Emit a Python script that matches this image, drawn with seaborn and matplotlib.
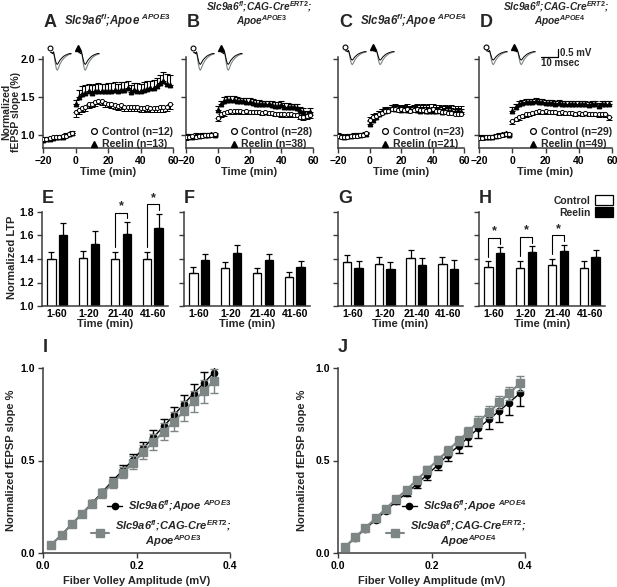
import numpy as np
import pandas as pd
import matplotlib
matplotlib.use('Agg')
import matplotlib.pyplot as plt
import seaborn as sns
from matplotlib.lines import Line2D
from matplotlib.patches import Patch

W, H = 617, 587

# ---------------- time course data (A-D) ----------------
t_base = [-20, -18, -16, -14, -12, -10, -8, -6, -4, -2]
t_post = list(range(0, 60, 2))

a_ctrl_base = [0.95, 0.95, 0.96, 0.97, 0.97, 0.98, 0.99, 0.99, 1.01, 1.02]
a_reel_base = [0.94, 0.95, 0.95, 0.96, 0.97, 0.98, 0.98, 1.00, 1.01, 1.03]
a_base_err = [0.02, 0.02, 0.02, 0.02, 0.02, 0.02, 0.02, 0.02, 0.02, 0.02]
a_ctrl_post = [1.30, 1.33, 1.35, 1.37, 1.40, 1.41, 1.43, 1.45, 1.44, 1.42, 1.41, 1.40, 1.39, 1.38, 1.39,
               1.37, 1.37, 1.36, 1.37, 1.36, 1.35, 1.35, 1.36, 1.35, 1.35, 1.35, 1.36, 1.36, 1.37, 1.40]
a_ctrl_err = [0.06, 0.05, 0.05, 0.05, 0.05, 0.05, 0.05, 0.05, 0.05, 0.05, 0.05, 0.05, 0.05, 0.05, 0.05,
              0.05, 0.05, 0.05, 0.05, 0.05, 0.05, 0.05, 0.05, 0.05, 0.05, 0.05, 0.06, 0.06, 0.06, 0.06]
a_reel_post = [1.40, 1.50, 1.54, 1.55, 1.57, 1.55, 1.57, 1.58, 1.57, 1.57, 1.58, 1.58, 1.59, 1.57, 1.59,
               1.59, 1.61, 1.56, 1.59, 1.58, 1.57, 1.59, 1.60, 1.61, 1.62, 1.64, 1.68, 1.70, 1.67, 1.66]
a_reel_err = [0.06, 0.09, 0.10, 0.10, 0.10, 0.10, 0.10, 0.10, 0.10, 0.10, 0.10, 0.10, 0.10, 0.10, 0.10,
              0.10, 0.09, 0.09, 0.09, 0.10, 0.10, 0.10, 0.10, 0.10, 0.10, 0.11, 0.11, 0.13, 0.13, 0.12]

b_ctrl_base = [0.97, 0.98, 0.99, 0.98, 0.99, 0.99, 1.00, 1.00, 1.00, 1.01]
b_reel_base = [0.98, 0.99, 0.98, 1.00, 0.99, 1.00, 1.00, 1.00, 1.01, 1.00]
b_base_err = [0.03, 0.02, 0.02, 0.02, 0.02, 0.02, 0.02, 0.02, 0.02, 0.02]
b_ctrl_post = [1.22, 1.27, 1.29, 1.30, 1.31, 1.31, 1.32, 1.31, 1.30, 1.31, 1.30, 1.30, 1.30, 1.30, 1.29,
               1.30, 1.29, 1.29, 1.28, 1.28, 1.27, 1.27, 1.27, 1.27, 1.26, 1.26, 1.24, 1.23, 1.25, 1.26]
b_ctrl_err = [0.04, 0.04, 0.04, 0.03, 0.03, 0.03, 0.03, 0.03, 0.03, 0.03, 0.03, 0.03, 0.03, 0.03, 0.03,
              0.03, 0.03, 0.03, 0.03, 0.03, 0.03, 0.03, 0.03, 0.03, 0.03, 0.03, 0.03, 0.03, 0.04, 0.04]
b_reel_post = [1.33, 1.40, 1.45, 1.46, 1.46, 1.46, 1.45, 1.44, 1.44, 1.43, 1.43, 1.42, 1.41, 1.41, 1.40,
               1.40, 1.40, 1.39, 1.38, 1.38, 1.39, 1.37, 1.37, 1.36, 1.36, 1.35, 1.32, 1.30, 1.26, 1.30]
b_reel_err = [0.05, 0.05, 0.05, 0.05, 0.05, 0.05, 0.05, 0.05, 0.05, 0.05, 0.05, 0.05, 0.05, 0.05, 0.05,
              0.05, 0.05, 0.05, 0.05, 0.05, 0.05, 0.05, 0.05, 0.05, 0.05, 0.05, 0.05, 0.05, 0.05, 0.05]

c_ctrl_base = [0.99, 0.97, 0.98, 0.98, 0.99, 0.99, 0.99, 1.00, 1.00, 1.02]
c_reel_base = [1.00, 0.99, 0.98, 0.99, 0.99, 1.00, 1.00, 1.00, 1.01, 1.01]
c_base_err = [0.02, 0.02, 0.02, 0.02, 0.02, 0.02, 0.02, 0.02, 0.02, 0.02]
c_ctrl_post = [1.20, 1.23, 1.25, 1.27, 1.29, 1.31, 1.32, 1.34, 1.34, 1.33, 1.34, 1.33, 1.34, 1.32, 1.33,
               1.34, 1.33, 1.33, 1.32, 1.33, 1.34, 1.32, 1.31, 1.30, 1.30, 1.29, 1.29, 1.28, 1.28, 1.28]
c_ctrl_err = [0.04, 0.04, 0.04, 0.04, 0.05, 0.05, 0.05, 0.05, 0.06, 0.06, 0.05, 0.06, 0.06, 0.06, 0.06,
              0.06, 0.06, 0.07, 0.07, 0.07, 0.07, 0.07, 0.08, 0.08, 0.09, 0.09, 0.10, 0.10, 0.10, 0.10]
c_reel_post = [1.15, 1.20, 1.24, 1.27, 1.30, 1.31, 1.33, 1.35, 1.34, 1.34, 1.33, 1.34, 1.33, 1.33, 1.34,
               1.33, 1.32, 1.33, 1.32, 1.31, 1.32, 1.31, 1.33, 1.30, 1.31, 1.32, 1.31, 1.30, 1.31, 1.30]
c_reel_err = [0.03, 0.03, 0.04, 0.04, 0.04, 0.04, 0.04, 0.04, 0.04, 0.04, 0.04, 0.04, 0.04, 0.04, 0.04,
              0.04, 0.04, 0.04, 0.04, 0.04, 0.04, 0.04, 0.04, 0.04, 0.04, 0.04, 0.04, 0.04, 0.04, 0.04]

d_ctrl_base = [0.96, 0.96, 0.97, 0.97, 0.98, 0.99, 0.99, 1.00, 1.01, 1.01]
d_reel_base = [0.97, 0.98, 0.97, 0.98, 0.98, 0.99, 1.00, 1.01, 1.02, 1.00]
d_base_err = [0.02, 0.02, 0.02, 0.02, 0.02, 0.02, 0.02, 0.02, 0.02, 0.02]
d_ctrl_post = [1.18, 1.21, 1.23, 1.25, 1.27, 1.28, 1.29, 1.30, 1.31, 1.30, 1.31, 1.30, 1.30, 1.30, 1.29,
               1.30, 1.29, 1.29, 1.29, 1.28, 1.29, 1.28, 1.29, 1.28, 1.28, 1.28, 1.27, 1.28, 1.27, 1.24]
d_ctrl_err = [0.03, 0.03, 0.03, 0.03, 0.03, 0.03, 0.03, 0.03, 0.03, 0.03, 0.03, 0.03, 0.03, 0.03, 0.03,
              0.03, 0.03, 0.03, 0.03, 0.03, 0.03, 0.03, 0.03, 0.03, 0.03, 0.03, 0.03, 0.03, 0.03, 0.04]
d_reel_post = [1.32, 1.37, 1.41, 1.42, 1.43, 1.43, 1.43, 1.44, 1.43, 1.43, 1.42, 1.42, 1.42, 1.41, 1.42,
               1.41, 1.41, 1.40, 1.41, 1.41, 1.40, 1.40, 1.40, 1.39, 1.40, 1.40, 1.38, 1.41, 1.40, 1.41]
d_reel_err = [0.04, 0.04, 0.04, 0.04, 0.04, 0.04, 0.04, 0.04, 0.04, 0.04, 0.04, 0.04, 0.04, 0.04, 0.04,
              0.04, 0.04, 0.04, 0.04, 0.04, 0.04, 0.04, 0.04, 0.04, 0.04, 0.04, 0.04, 0.04, 0.04, 0.04]

n_ctrl = [12, 28, 23, 29]
n_reel = [13, 38, 21, 49]

# example fEPSP traces for the insets (ms, mV)
trace_t = [0, 1, 2, 3, 4, 5, 6, 7, 8, 9, 10, 12, 14, 16, 18, 20, 22]
trace_pre = [0, 0, -0.05, 0.03, -0.15, -0.35, -0.50, -0.55, -0.50, -0.42, -0.35, -0.25, -0.17, -0.12, -0.08, -0.05, -0.04]
trace_post = [0, 0, -0.05, 0.03, -0.22, -0.52, -0.74, -0.82, -0.75, -0.64, -0.53, -0.38, -0.27, -0.19, -0.13, -0.09, -0.07]

# ---------------- LTP bar data (E-H) ----------------
windows = ['1-60', '1-20', '21-40', '41-60']
e_ctrl = [1.40, 1.41, 1.40, 1.40]
e_ctrl_err = [0.06, 0.06, 0.06, 0.06]
e_reel = [1.60, 1.53, 1.61, 1.665]
e_reel_err = [0.11, 0.11, 0.105, 0.12]
f_ctrl = [1.285, 1.32, 1.277, 1.243]
f_ctrl_err = [0.05, 0.055, 0.05, 0.05]
f_reel = [1.39, 1.45, 1.39, 1.33]
f_reel_err = [0.05, 0.065, 0.05, 0.05]
g_ctrl = [1.375, 1.36, 1.41, 1.355]
g_ctrl_err = [0.055, 0.055, 0.065, 0.06]
g_reel = [1.325, 1.315, 1.345, 1.315]
g_reel_err = [0.06, 0.06, 0.06, 0.08]
h_ctrl = [1.33, 1.32, 1.35, 1.32]
h_ctrl_err = [0.05, 0.065, 0.05, 0.065]
h_reel = [1.45, 1.46, 1.47, 1.42]
h_reel_err = [0.05, 0.05, 0.05, 0.055]
e_sig = ['21-40', '41-60']
h_sig = ['1-60', '1-20', '21-40']

# ---------------- input-output data (I-J) ----------------
i_fv = [0.018, 0.040, 0.062, 0.083, 0.105, 0.127, 0.149, 0.171, 0.193, 0.214, 0.236, 0.258, 0.280, 0.301,
        0.322, 0.344, 0.365]
i_black = [0.045, 0.100, 0.158, 0.213, 0.270, 0.330, 0.390, 0.448, 0.505, 0.565, 0.625, 0.685, 0.745, 0.805,
           0.862, 0.918, 0.975]
i_black_err = [0.005, 0.008, 0.010, 0.012, 0.014, 0.018, 0.022, 0.026, 0.030, 0.034, 0.038, 0.042, 0.046,
               0.050, 0.054, 0.058, 0.060]
i_gray = [0.045, 0.099, 0.155, 0.210, 0.265, 0.322, 0.378, 0.433, 0.488, 0.545, 0.600, 0.655, 0.710, 0.765,
          0.820, 0.875, 0.930]
i_gray_err = [0.006, 0.010, 0.012, 0.015, 0.018, 0.022, 0.026, 0.030, 0.034, 0.038, 0.042, 0.046, 0.050,
              0.054, 0.058, 0.062, 0.065]

j_fv = [0.014, 0.037, 0.058, 0.081, 0.102, 0.124, 0.147, 0.169, 0.191, 0.214, 0.235, 0.258, 0.279, 0.300,
        0.323, 0.345, 0.366, 0.389]
j_black = [0.030, 0.082, 0.130, 0.180, 0.228, 0.279, 0.324, 0.374, 0.423, 0.477, 0.530, 0.579, 0.626, 0.674,
           0.723, 0.768, 0.813, 0.863]
j_black_err = [0.004, 0.006, 0.008, 0.010, 0.012, 0.015, 0.018, 0.022, 0.026, 0.030, 0.035, 0.040, 0.045,
               0.050, 0.055, 0.060, 0.065, 0.070]
j_gray = [0.030, 0.086, 0.135, 0.189, 0.239, 0.291, 0.342, 0.396, 0.450, 0.504, 0.554, 0.608, 0.656, 0.710,
          0.760, 0.815, 0.863, 0.917]
j_gray_err = [0.004, 0.005, 0.006, 0.008, 0.010, 0.012, 0.014, 0.016, 0.018, 0.020, 0.022, 0.025, 0.027,
              0.030, 0.032, 0.035, 0.037, 0.040]

# ---------------- style ----------------
sns.set_style('ticks')
plt.rcParams['font.family'] = ['Liberation Sans', 'DejaVu Sans']
plt.rcParams['font.weight'] = 'bold'
plt.rcParams['axes.labelweight'] = 'bold'
plt.rcParams['mathtext.fontset'] = 'custom'
plt.rcParams['mathtext.it'] = 'Liberation Sans:italic:bold'
plt.rcParams['mathtext.rm'] = 'Liberation Sans:bold'
plt.rcParams['mathtext.bf'] = 'Liberation Sans:bold'
plt.rcParams['mathtext.sf'] = 'Liberation Sans:bold'
plt.rcParams['axes.linewidth'] = 1.1
plt.rcParams['axes.edgecolor'] = '#3a3a3a'
plt.rcParams['xtick.color'] = '#3a3a3a'
plt.rcParams['ytick.color'] = '#3a3a3a'
plt.rcParams['xtick.labelcolor'] = 'black'
plt.rcParams['ytick.labelcolor'] = 'black'

GRAY = '#7d8585'
TICK_FS = 7.5
LAB_FS = 8

fig = plt.figure(figsize=(W / 100, H / 100), dpi=100)


def px_axes(x0, y0, x1, y1):
    return fig.add_axes([x0 / W, 1 - y1 / H, (x1 - x0) / W, (y1 - y0) / H])


def fig_text(x, y, s, **kw):
    return fig.text(x / W, 1 - y / H, s, **kw)


def style_axes(ax):
    sns.despine(ax=ax)
    ax.tick_params(direction='out', length=3.5, width=1, labelsize=TICK_FS, pad=2)


def geno(line, short=True):
    if short:
        return r'Slc9a6$^{\mathit{fl}}$;Apoe $^{\mathit{' + line + '}}$'
    return r'Slc9a6$^{\mathit{fl}}$;CAG-Cre$^{\mathit{ERT2}}$;'


# ---------------- row 1: time courses ----------------
tc_panels = [
    ('A', (43, 173), a_ctrl_base, a_ctrl_post, a_ctrl_err, a_reel_base, a_reel_post, a_reel_err, a_base_err, 'down'),
    ('B', (186, 313), b_ctrl_base, b_ctrl_post, b_ctrl_err, b_reel_base, b_reel_post, b_reel_err, b_base_err, 'down'),
    ('C', (338, 464), c_ctrl_base, c_ctrl_post, c_ctrl_err, c_reel_base, c_reel_post, c_reel_err, c_base_err, 'up'),
    ('D', (479, 612), d_ctrl_base, d_ctrl_post, d_ctrl_err, d_reel_base, d_reel_post, d_reel_err, d_base_err, 'down'),
]

t_all = t_base + t_post
for k, (letter, (x0, x1), cb, cp, ce, rb, rp, re_, be, cdir) in enumerate(tc_panels):
    ax = px_axes(x0, 57, x1, 148)
    c_mean = np.array(cb + cp)
    c_err = np.array(be + ce)
    r_mean = np.array(rb + rp)
    r_err = np.array(be + re_)
    zero = np.zeros_like(c_err)
    c_yerr = [c_err, zero] if cdir == 'down' else [zero, c_err]
    ax.errorbar(t_all, r_mean, yerr=[zero, r_err], fmt='^', ms=3.2, color='black',
                ecolor='black', elinewidth=0.8, capsize=2.0, capthick=0.8, zorder=3)
    ax.errorbar(t_all, c_mean, yerr=c_yerr, fmt='o', ms=3.0, mfc='white', mec='black', mew=0.7,
                ecolor='black', elinewidth=0.7, capsize=2.0, capthick=0.7, zorder=4)
    ax.set_xlim(-20, 60)
    ax.set_ylim(0.83, 2.02)
    ax.set_xticks([-20, 0, 20, 40, 60])
    ax.set_yticks([1.0, 1.5, 2.0])
    ax.yaxis.set_major_formatter(plt.FormatStrFormatter('%.1f'))
    style_axes(ax)
    if k > 0:
        ax.tick_params(labelleft=False)
    ax.set_xlabel('Time (min)', fontsize=LAB_FS, labelpad=1)
    handles = [Line2D([], [], marker='o', ls='none', mfc='white', mec='black', mew=0.9, ms=4.2),
               Line2D([], [], marker='^', ls='none', color='black', ms=4.6)]
    ax.legend(handles, [f'Control (n={n_ctrl[k]})', f'Reelin (n={n_reel[k]})'], loc='lower right',
              bbox_to_anchor=(1.03, -0.06), frameon=False, fontsize=7.6, handlelength=0.6,
              handletextpad=0.4, labelspacing=0.2, borderaxespad=0)
    fig_text(x0 + 1, 27, letter, fontsize=13, fontweight='bold', ha='left', va='baseline')

    # inset traces
    depth = 27 if letter in ('A', 'B') else 21
    for j, (sx0, sym) in enumerate([(x0 + 4, 'o'), (x0 + 32, '^')]):
        ins = px_axes(sx0, 45, sx0 + 26, 45 + depth)
        ins.plot(trace_t, trace_post, color=GRAY, lw=0.8)
        ins.plot(trace_t, trace_pre, color='black', lw=0.7)
        ins.set_xlim(-4, 24)
        ins.set_ylim(-0.9, 0.35)
        if sym == 'o':
            ins.plot([0.12], [0.9], marker='o', ms=3.5, mfc='white', mec='black', mew=0.8,
                     transform=ins.transAxes, clip_on=False)
        else:
            ins.plot([0.12], [0.9], marker='^', ms=4, color='black',
                     transform=ins.transAxes, clip_on=False)
        ins.axis('off')

# titles row 1
fig_text(64, 25, geno('APOE3'), fontsize=8.3, style='italic', ha='left', va='baseline')
fig_text(259, 11, geno('', short=False), fontsize=7.3, style='italic', ha='center', va='baseline')
fig_text(262, 25, r'Apoe$^{\mathit{APOE3}}$', fontsize=7.3, style='italic', ha='center', va='baseline')
fig_text(360, 25, geno('APOE4'), fontsize=8.3, style='italic', ha='left', va='baseline')
fig_text(556, 11, geno('', short=False), fontsize=7.3, style='italic', ha='center', va='baseline')
fig_text(560, 25, r'Apoe$^{\mathit{APOE4}}$', fontsize=7.3, style='italic', ha='center', va='baseline')

# scale bar in D
fig.add_artist(Line2D([541 / W, 558 / W, 558 / W], [1 - 57 / H, 1 - 57 / H, 1 - 49 / H],
                      transform=fig.transFigure, color='black', lw=0.9))
fig_text(560, 53, '0.5 mV', fontsize=7, va='center', ha='left')
fig_text(541, 58, '10 msec', fontsize=7, va='top', ha='left')

fig_text(11, 112, 'Normalized\nfEPSP slope (%)', fontsize=7.5, rotation=90, ha='center',
         va='center', linespacing=1.0)

# ---------------- row 2: LTP bars ----------------
bar_panels = [
    ('E', (42, 168), e_ctrl, e_ctrl_err, e_reel, e_reel_err, e_sig),
    ('F', (184, 310), f_ctrl, f_ctrl_err, f_reel, f_reel_err, []),
    ('G', (338, 463), g_ctrl, g_ctrl_err, g_reel, g_reel_err, []),
    ('H', (479, 605), h_ctrl, h_ctrl_err, h_reel, h_reel_err, h_sig),
]

for k, (letter, (x0, x1), cv, ce, rv, re_, sig) in enumerate(bar_panels):
    ax = px_axes(x0, 212, x1, 306)
    df = pd.DataFrame({'window': windows * 2,
                       'group': ['Control'] * 4 + ['Reelin'] * 4,
                       'ltp': cv + rv})
    sns.barplot(data=df, x='window', y='ltp', hue='group', order=windows,
                hue_order=['Control', 'Reelin'], palette={'Control': 'white', 'Reelin': 'black'},
                edgecolor='black', linewidth=0.9, width=0.73, gap=0.26, errorbar=None,
                legend=False, ax=ax)
    tops = {}
    for container, errs, name in zip(ax.containers, [ce, re_], ['c', 'r']):
        for bar, e, w in zip(container, errs, windows):
            xc = bar.get_x() + bar.get_width() / 2
            yt = bar.get_height()
            ax.errorbar(xc, yt, yerr=[[0], [e]], color='black', elinewidth=0.9,
                        capsize=2.5, capthick=0.9)
            tops[(name, w)] = (xc, yt + e)
    for w in sig:
        cx, ctop = tops[('c', w)]
        rx, rtop = tops[('r', w)]
        top = rtop + 0.08
        ax.plot([cx, cx, rx, rx], [ctop + 0.04, top, top, rtop + 0.03], color='black',
                lw=0.8, clip_on=False)
        ax.text((cx + rx) / 2, top + 0.005, '*', ha='center', va='bottom', fontsize=9,
                fontweight='bold', clip_on=False)
    ax.set_xlim(-0.47, 3.47)
    ax.set_ylim(1.0, 1.8)
    ax.set_yticks([1.0, 1.2, 1.4, 1.6, 1.8])
    ax.yaxis.set_major_formatter(plt.FormatStrFormatter('%.1f'))
    style_axes(ax)
    ax.tick_params(axis='x', length=0)
    if k > 0:
        ax.tick_params(labelleft=False)
    ax.set_ylabel('')
    ax.set_xlabel('Time (min)', fontsize=LAB_FS, labelpad=0)
    fig_text(x0, 203, letter, fontsize=13, fontweight='bold', ha='left', va='baseline')

fig_text(12, 257, 'Normalized LTP', fontsize=LAB_FS, rotation=90, ha='center', va='center')
fig.legend(handles=[Patch(fc='white', ec='black', lw=0.9), Patch(fc='black', ec='black', lw=0.9)],
           labels=['Control', 'Reelin'], loc='upper right', bbox_to_anchor=(1.0, 1 - 191 / H),
           frameon=False, markerfirst=False, fontsize=7.5, handlelength=1.7, handleheight=1.1,
           labelspacing=0.15, borderaxespad=0, handletextpad=0.4)

# ---------------- row 3: input-output ----------------
io_panels = [
    ('I', (43, 230), i_fv, i_black, i_black_err, i_gray, i_gray_err, 'APOE3', 11),
    ('J', (338, 525), j_fv, j_black, j_black_err, j_gray, j_gray_err, 'APOE4', 302),
]
for letter, (x0, x1), fv, yb, eb, yg, eg, line, ylab_x in io_panels:
    ax = px_axes(x0, 368, x1, 553)
    ax.errorbar(fv, yb, yerr=eb, fmt='-o', color='black', ms=4.5, lw=1, elinewidth=1,
                capsize=3, capthick=1, zorder=3)
    ax.errorbar(fv, yg, yerr=eg, fmt='-s', color=GRAY, ms=5.5, lw=1.5, elinewidth=1,
                capsize=3, capthick=1, zorder=4)
    ax.set_xlim(0, 0.4)
    ax.set_ylim(0, 1.0)
    ax.set_xticks([0.0, 0.2, 0.4])
    ax.set_yticks([0.0, 0.5, 1.0])
    ax.xaxis.set_major_formatter(plt.FormatStrFormatter('%.1f'))
    ax.yaxis.set_major_formatter(plt.FormatStrFormatter('%.1f'))
    style_axes(ax)
    ax.set_xlabel('Fiber Volley Amplitude (mV)', fontsize=LAB_FS, labelpad=4)
    h_black = Line2D([], [], color='black', marker='o', ms=4.5, lw=1)
    h_gray = Line2D([], [], color=GRAY, marker='s', ms=5.5, lw=1.5)
    leg1 = ax.legend([h_black], [geno(line)], loc='lower right', bbox_to_anchor=(1.03, 0.185),
                     frameon=False, handlelength=1.4, handletextpad=0.5,
                     borderaxespad=0, prop={'style': 'italic', 'weight': 'bold', 'size': LAB_FS})
    ax.add_artist(leg1)
    leg2 = ax.legend([h_gray], [geno('', short=False) + '\nApoe$^{\\mathit{' + line + '}}$'],
                     loc='lower right', bbox_to_anchor=(1.03, 0.0), frameon=False,
                     handlelength=1.6, handletextpad=0.5, borderaxespad=0,
                     prop={'style': 'italic', 'weight': 'bold', 'size': LAB_FS})
    for t in leg2.get_texts():
        t.set_multialignment('center')
        t.set_linespacing(1.0)
    fig_text(x0, 352, letter, fontsize=13, fontweight='bold', ha='left', va='baseline')
    fig_text(ylab_x, 460, 'Normalized fEPSP slope %', fontsize=LAB_FS, rotation=90,
             ha='center', va='center')

fig.savefig('out.png', dpi=100)
